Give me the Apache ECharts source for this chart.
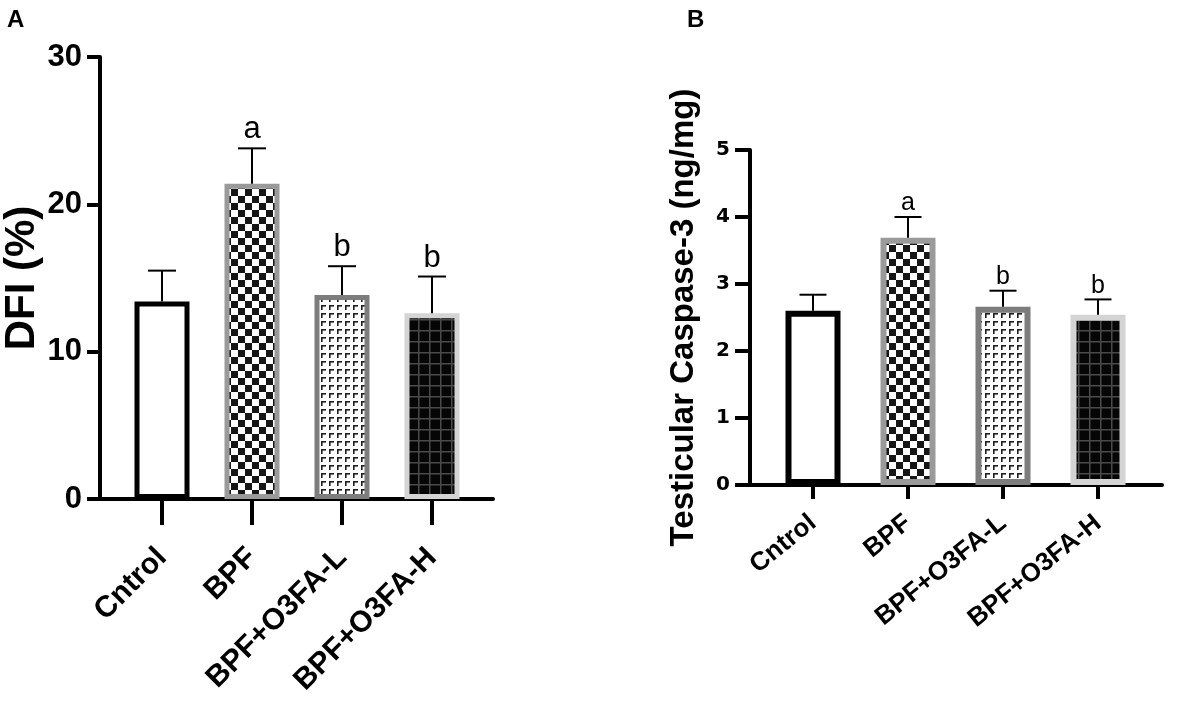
<!DOCTYPE html>
<html>
<head>
<meta charset="utf-8">
<script src="https://cdn.jsdelivr.net/npm/echarts@6/dist/echarts.min.js"></script>
<style>
html,body{margin:0;padding:0;background:#fff;}
#chart{width:1181px;height:708px;}
</style>
</head>
<body>
<div id="chart"></div>
<script>
// ---------- data ----------
const categories = ['Cntrol', 'BPF', 'BPF+O3FA-L', 'BPF+O3FA-H'];
const dfiMean = [13.4, 21.4, 13.85, 12.6];
const dfiSD = [2.1, 2.4, 1.95, 2.5];
const dfiLetters = ['', 'a', 'b', 'b'];
const casMean = [2.60, 3.69, 2.66, 2.54];
const casSD = [0.24, 0.31, 0.24, 0.23];
const casLetters = ['', 'a', 'b', 'b'];
const dfiAxis = { min: 0, max: 30, interval: 10 };
const casAxis = { min: 0, max: 5, interval: 1 };

// ---------- patterns ----------
function makeCanvas(w, h, draw) {
  const c = document.createElement('canvas');
  c.width = w; c.height = h;
  draw(c.getContext('2d'));
  return c;
}
const checker = makeCanvas(14, 14, g => {
  g.fillStyle = '#fff'; g.fillRect(0, 0, 14, 14);
  g.fillStyle = '#161616'; g.fillRect(0, 0, 7, 7); g.fillRect(7, 7, 7, 7);
});
const gammaPat = makeCanvas(8, 8, g => {
  g.fillStyle = '#fff'; g.fillRect(0, 0, 8, 8);
  g.fillStyle = '#1e1e1e';
  g.fillRect(1, 1, 5, 1.6); g.fillRect(1, 1, 1.6, 5);
});
const gridPat = makeCanvas(11, 11, g => {
  g.fillStyle = '#060606'; g.fillRect(0, 0, 11, 11);
  g.fillStyle = '#4a4a4a'; g.fillRect(0, 0, 11, 1.5); g.fillRect(0, 0, 1.5, 11);
});
const barStyles = [
  { color: '#ffffff', borderColor: '#000000' },
  { color: { image: checker, repeat: 'repeat' }, borderColor: '#9a9a9a' },
  { color: { image: gammaPat, repeat: 'repeat' }, borderColor: '#7d7d7d' },
  { color: { image: gridPat, repeat: 'repeat' }, borderColor: '#d4d4d4' }
];

const FONT = "'Liberation Sans', Arial, sans-serif";

function barSeries(grid, means, borderW) {
  return {
    type: 'bar', xAxisIndex: grid, yAxisIndex: grid, barWidth: 55,
    data: means.map((v, i) => ({
      value: v,
      itemStyle: { color: barStyles[i].color, borderColor: barStyles[i].borderColor, borderWidth: borderW }
    })),
    z: 2, silent: true
  };
}
function errSeries(grid, means, sds, letters, capW, fontSize, gap) {
  return {
    type: 'custom', xAxisIndex: grid, yAxisIndex: grid, z: 3, silent: true,
    data: means.map((m, i) => [i, m, m + sds[i]]),
    encode: { x: 0, y: [1, 2] },
    renderItem: function (params, api) {
      const p0 = api.coord([api.value(0), api.value(1)]);
      const p1 = api.coord([api.value(0), api.value(2)]);
      const ls = { stroke: '#000', lineWidth: 2 };
      const children = [
        { type: 'line', shape: { x1: p0[0], y1: p0[1], x2: p1[0], y2: p1[1] }, style: ls },
        { type: 'line', shape: { x1: p1[0] - capW / 2, y1: p1[1], x2: p1[0] + capW / 2, y2: p1[1] }, style: ls }
      ];
      const t = letters[params.dataIndex];
      if (t) children.push({
        type: 'text',
        style: { text: t, x: p1[0], y: p1[1] - gap, align: 'center', verticalAlign: 'bottom',
          fontSize: fontSize, fontFamily: FONT, fill: '#000' }
      });
      return { type: 'group', children: children };
    }
  };
}

const chart = echarts.init(document.getElementById('chart'), null, { renderer: 'canvas' });
const axisLineStyle = { color: '#000', width: 4 };

const option = {
  backgroundColor: '#fff',
  animation: false,
  title: [
    { text: 'A', left: 2, top: 3, textStyle: { fontSize: 24, fontWeight: 'bold', fontFamily: FONT, color: '#000' } },
    { text: 'B', left: 682, top: 3, textStyle: { fontSize: 24, fontWeight: 'bold', fontFamily: FONT, color: '#000' } }
  ],
  grid: [
    { left: 117, right: 704, top: 57, bottom: 209 },
    { left: 765.5, right: 35.5, top: 150, bottom: 223 },
    { left: 100, right: 688, top: 57, bottom: 209 },
    { left: 750, right: 19, top: 150, bottom: 223 }
  ],
  xAxis: [
    {
      type: 'category', gridIndex: 0, data: categories,
      axisLine: { show: false },
      axisTick: { show: true, alignWithLabel: true, length: 26, lineStyle: axisLineStyle },
      axisLabel: { interval: 0, rotate: 45, margin: 54, fontSize: 30, fontWeight: 'bold', fontFamily: FONT, color: '#000' }
    },
    {
      type: 'category', gridIndex: 1, data: categories,
      axisLine: { show: false },
      axisTick: { show: true, alignWithLabel: true, length: 14, lineStyle: axisLineStyle },
      axisLabel: { interval: 0, rotate: 39, margin: 35, fontSize: 26, fontWeight: 'bold', fontFamily: FONT, color: '#000' }
    },
    {
      type: 'value', gridIndex: 2, min: 0, max: 1,
      axisLine: { show: true, lineStyle: axisLineStyle },
      axisTick: { show: false }, axisLabel: { show: false }, splitLine: { show: false }
    },
    {
      type: 'value', gridIndex: 3, min: 0, max: 1,
      axisLine: { show: true, lineStyle: axisLineStyle },
      axisTick: { show: false }, axisLabel: { show: false }, splitLine: { show: false }
    }
  ],
  yAxis: [
    {
      type: 'value', gridIndex: 0, offset: 17, min: dfiAxis.min, max: dfiAxis.max, interval: dfiAxis.interval,
      name: 'DFI (%)', nameLocation: 'middle', nameGap: 56,
      nameTextStyle: { fontSize: 42, fontWeight: 'bold', fontFamily: FONT, color: '#000' },
      axisLine: { show: true, lineStyle: axisLineStyle },
      axisTick: { show: true, length: 13, lineStyle: axisLineStyle },
      axisLabel: { margin: 18, fontSize: 31, fontWeight: 'bold', fontFamily: FONT, color: '#000' },
      splitLine: { show: false }
    },
    {
      type: 'value', gridIndex: 1, offset: 15.5, min: casAxis.min, max: casAxis.max, interval: casAxis.interval,
      name: 'Testicular Caspase-3 (ng/mg)', nameLocation: 'middle', nameGap: 50,
      nameTextStyle: { fontSize: 33, fontWeight: 'bold', fontFamily: FONT, color: '#000' },
      axisLine: { show: true, lineStyle: axisLineStyle },
      axisTick: { show: true, length: 15, lineStyle: axisLineStyle },
      axisLabel: { margin: 20, fontSize: 20, fontWeight: 'bold', fontFamily: "'DejaVu Sans', sans-serif", color: '#000' },
      splitLine: { show: false }
    },
    { type: 'value', gridIndex: 2, show: false },
    { type: 'value', gridIndex: 3, show: false }
  ],
  series: [
    barSeries(0, dfiMean, 5),
    errSeries(0, dfiMean, dfiSD, dfiLetters, 28, 31, 3),
    barSeries(1, casMean, 6),
    errSeries(1, casMean, casSD, casLetters, 27, 25, 1)
  ]
};
chart.setOption(option);
</script>
</body>
</html>
